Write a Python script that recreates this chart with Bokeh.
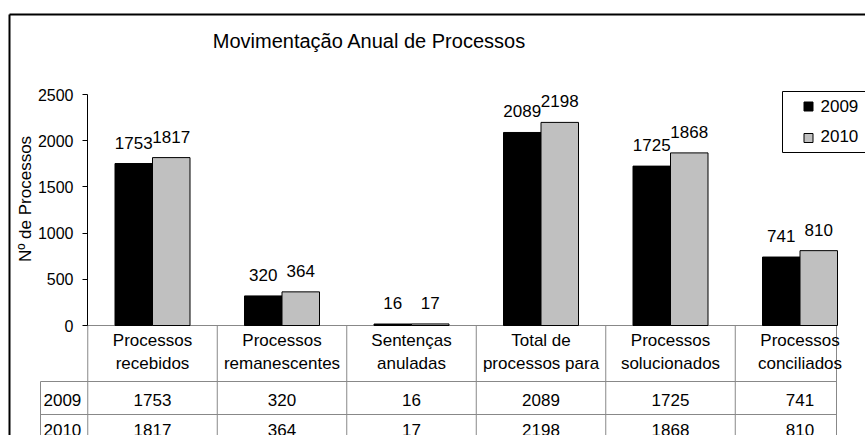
import math
from bokeh.plotting import figure
from bokeh.models import Range1d, LinearAxis, FixedTicker
from bokeh.core.properties import value
from bokeh.embed import file_html
from bokeh.resources import INLINE

# ---------------- data ----------------
title = "Movimentação Anual de Processos"
y_label = "Nº de Processos"
cat_line1 = ["Processos", "Processos", "Sentenças", "Total de", "Processos", "Processos"]
cat_line2 = ["recebidos", "remanescentes", "anuladas", "processos para", "solucionados", "conciliados"]
years = ["2009", "2010"]
v2009 = [1753, 320, 16, 2089, 1725, 741]
v2010 = [1817, 364, 17, 2198, 1868, 810]
y_ticks = [0, 500, 1000, 1500, 2000, 2500]

# ---------------- layout helpers (page pixels -> data units) ----------------
W, H = 865, 435
COL_PX = 129.5      # width of one category column
X0_PX = 152.0       # centre of first category
Y0_PX = 325.0       # y = 0
YT_PX = 94.0        # y = 2500
YMAX = 2500.0
SHIFT = 7.0         # text baseline correction (px)

def dx(px):
    return (px - X0_PX) / COL_PX

def dy(py):
    return (Y0_PX - py) * YMAX / (Y0_PX - YT_PX)

def ty(py):
    return dy(py - SHIFT)

FONT = value("Liberation Sans")
FS = "17px"
GRID = "#888888"

p = figure(width=W, height=H,
           x_range=Range1d(dx(0), dx(W)),
           y_range=Range1d(dy(H), dy(0)),
           output_backend="svg", toolbar_location=None,
           x_axis_location=None, y_axis_location=None,
           min_border=0, min_border_left=0, min_border_right=0,
           min_border_top=0, min_border_bottom=0,
           outline_line_color=None, background_fill_color="white",
           border_fill_color="white")
p.grid.visible = False

idx = list(range(len(v2009)))

# outer chart border (cropped at right/bottom): top and left edges only
p.segment(x0=[dx(9), dx(9)], x1=[dx(W + 60), dx(9)],
          y0=[dy(14), dy(14)], y1=[dy(14), dy(H + 60)],
          line_color="black", line_width=2)

# y axis
yaxis = LinearAxis(fixed_location=dx(87), bounds=(0, 2500),
                   ticker=FixedTicker(ticks=y_ticks),
                   major_tick_in=0, major_tick_out=5,
                   minor_tick_line_color=None,
                   axis_line_color="black", major_tick_line_color="black",
                   major_label_text_font="Liberation Sans",
                   major_label_text_font_size="16px",
                   major_label_text_color="black",
                   major_label_standoff=9)
p.add_layout(yaxis, "left")

# table grid
right_px = 836
h_lines_y = [dy(325), dy(381), dy(414)]
h_left = [dx(87), dx(40), dx(40)]
p.segment(x0=h_left, x1=[dx(right_px)] * 3, y0=h_lines_y, y1=h_lines_y,
          line_color=GRID, line_width=1)
v_x = [i - 0.5 for i in idx] + [dx(right_px)]
p.segment(x0=v_x, x1=v_x, y0=[dy(325)] * len(v_x), y1=[dy(H + 60)] * len(v_x),
          line_color=GRID, line_width=1)
p.segment(x0=[dx(40)], x1=[dx(40)], y0=[dy(381)], y1=[dy(H + 60)],
          line_color=GRID, line_width=1)

# bars
bw = 37.5 / COL_PX
p.vbar(x=[i - bw / 2 for i in idx], top=v2009, bottom=0, width=bw,
       fill_color="black", line_color="black", line_width=1)
p.vbar(x=[i + bw / 2 for i in idx], top=v2010, bottom=0, width=bw,
       fill_color="#c0c0c0", line_color="black", line_width=1)

# data labels
txt = dict(text_font=FONT, text_font_size=FS, text_color="black",
           text_baseline="alphabetic")
p.text(x=[i - bw / 2 for i in idx], y=v2009, text=[str(v) for v in v2009],
       y_offset=-14 - SHIFT, text_align="center", **txt)
p.text(x=[i + bw / 2 for i in idx], y=v2010, text=[str(v) for v in v2010],
       y_offset=-14 - SHIFT, text_align="center", **txt)

# table header
p.text(x=idx, y=[ty(347)] * len(idx), text=cat_line1, text_align="center", **txt)
p.text(x=idx, y=[ty(370)] * len(idx), text=cat_line2, text_align="center", **txt)
# table rows
p.text(x=idx, y=[ty(406)] * len(idx), text=[str(v) for v in v2009], text_align="center", **txt)
p.text(x=idx, y=[ty(436)] * len(idx), text=[str(v) for v in v2010], text_align="center", **txt)
p.text(x=[dx(43)] * 2, y=[ty(406), ty(436)], text=years, text_align="left", **txt)

# title
p.text(x=[dx(369)], y=[ty(47.7)], text=[title], text_align="center",
       text_font=FONT, text_font_size="20px", text_color="black",
       text_baseline="alphabetic")

# y axis label (rotated; baseline correction acts along x)
p.text(x=[dx(32 - SHIFT)], y=[dy(198.5)], text=[y_label], angle=math.pi / 2,
       text_align="center", **txt)

# legend (box open at the right, cropped)
p.segment(x0=[dx(782), dx(782), dx(782)], x1=[dx(W + 60), dx(782), dx(W + 60)],
          y0=[dy(91), dy(91), dy(152)], y1=[dy(91), dy(152), dy(152)],
          line_color="black", line_width=1)
p.scatter(x=[dx(808)] * 2, y=[dy(106), dy(137.5)], marker="square", size=9,
          fill_color=["black", "#c0c0c0"], line_color="black", line_width=1)
p.text(x=[dx(820)] * 2, y=[ty(112), ty(142.5)], text=years, text_align="left", **txt)

open("out.html", "w").write(file_html(p, INLINE))
